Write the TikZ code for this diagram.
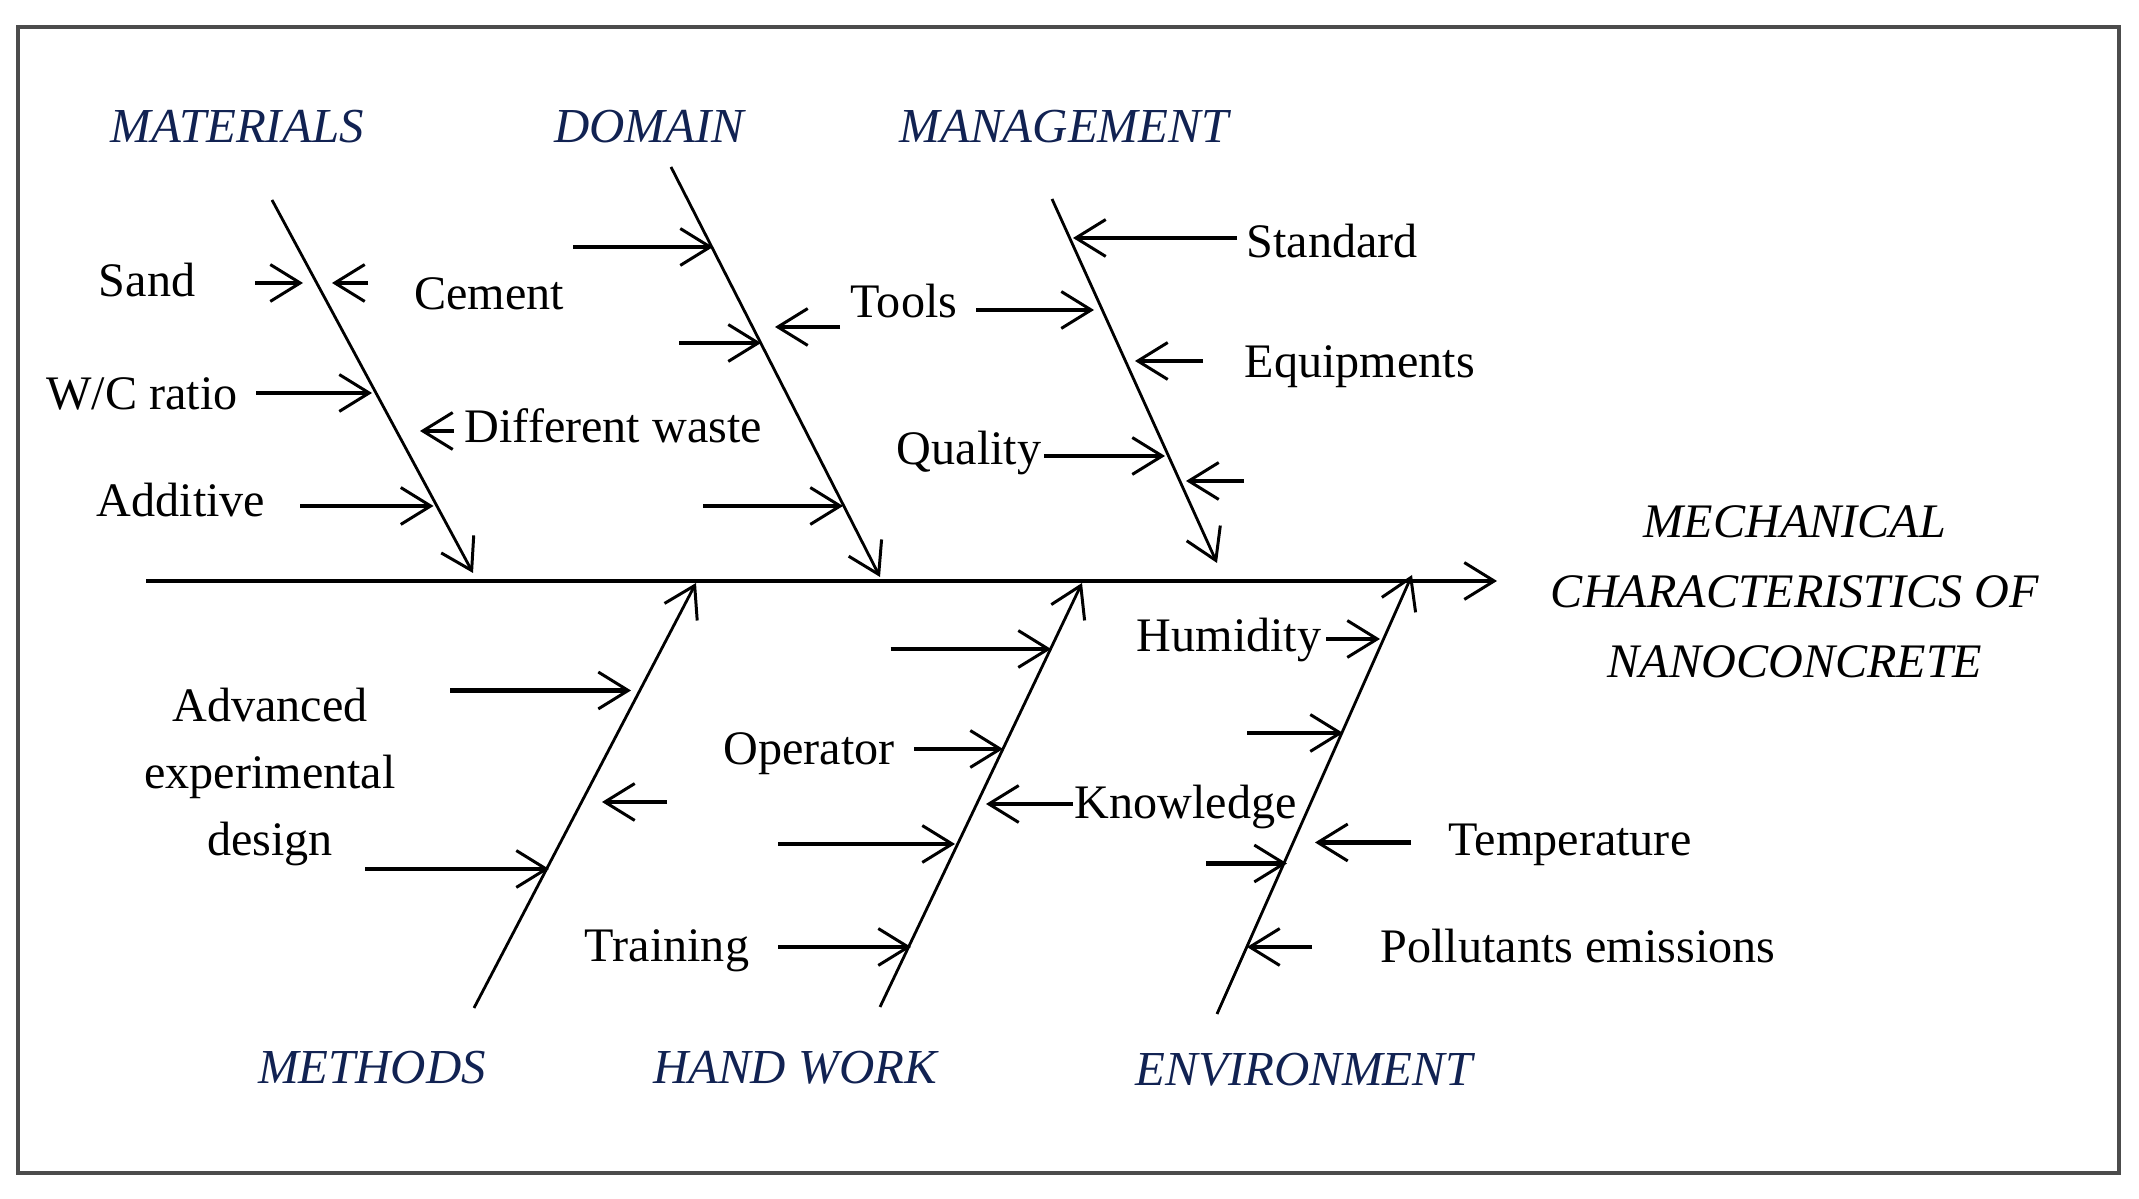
\documentclass[tikz,border=0pt]{standalone}
\usepackage{fontspec}
\setmainfont{Liberation Serif}
\usetikzlibrary{arrows.meta}
\definecolor{marine}{RGB}{17,34,82}

\begin{document}
\begin{tikzpicture}[
    font=\fontsize{13.7}{19}\selectfont,
    pointe/.style={-{Straight Barb[length=8.5pt,width=10.5pt,line width=0.85pt]}},
    arete/.style={pointe, line width=0.8pt},
    fleche/.style={pointe, line width=1.3pt},
    etiq/.style={inner sep=0pt, text height=0.82em, text depth=0pt},
    famille/.style={etiq, font=\fontsize{13.9}{19}\selectfont\itshape, text=marine}]
    \useasboundingbox (0,0) rectangle (21.39,11.99);

    % Cadre
    \draw[line width=1pt, black!70] (0.18,0.26) rectangle (21.19,11.72);

    % Arête principale et effet
    \coordinate (queue) at (1.46,6.18);
    \coordinate (tete) at (14.97,6.18);
    \draw[fleche] (queue) -- (tete);
    \node[align=center, inner sep=0pt, font=\fontsize{13.7}{20}\selectfont\itshape] (effet) at (17.95,6.07) {MECHANICAL\\CHARACTERISTICS OF\\NANOCONCRETE};

    % Familles de causes
    \node[famille] (materiaux) at (2.37,10.71) {MATERIALS};
    \node[famille] (domaine) at (6.49,10.71) {DOMAIN};
    \node[famille] (gestion) at (10.64,10.71) {MANAGEMENT};
    \node[famille] (methodes) at (3.72,1.295) {METHODS};
    \node[famille] (maindoeuvre) at (7.95,1.295) {HAND WORK};
    \node[famille] (milieu) at (13.04,1.275) {ENVIRONMENT};

    % Arêtes secondaires
    \coordinate (mat-h) at (2.72,9.99);   \coordinate (mat-b) at (4.73,6.26);
    \coordinate (dom-h) at (6.71,10.32);  \coordinate (dom-b) at (8.80,6.22);
    \coordinate (ges-h) at (10.52,10.00); \coordinate (ges-b) at (12.17,6.36);
    \coordinate (met-h) at (4.74,1.91);   \coordinate (met-b) at (6.96,6.16);
    \coordinate (mdo-h) at (8.80,1.92);   \coordinate (mdo-b) at (10.82,6.16);
    \coordinate (env-h) at (12.17,1.85);  \coordinate (env-b) at (14.12,6.24);
    \draw[arete] (mat-h) -- (mat-b);
    \draw[arete] (dom-h) -- (dom-b);
    \draw[arete] (ges-h) -- (ges-b);
    \draw[arete] (met-h) -- (met-b);
    \draw[arete] (mdo-h) -- (mdo-b);
    \draw[arete] (env-h) -- (env-b);

    % Causes : matériaux
    \node[etiq] (sable) at (1.47,9.17) {Sand};
    \node[etiq] (ciment) at (4.89,9.04) {Cement};
    \node[etiq] (eau) at (1.42,8.04) {W/C ratio};
    \node[etiq, anchor=west] (dechets) at (4.64,7.71) {Different waste};
    \node[etiq] (additif) at (1.81,6.97) {Additive};
    \coordinate (p-sable) at (3.03,9.16);
    \coordinate (p-mat2) at (3.32,9.16);
    \coordinate (p-eau) at (3.72,8.06);
    \coordinate (p-dechets) at (4.20,7.68);
    \coordinate (p-additif) at (4.335,6.93);
    \draw[fleche] ([xshift=-0.48cm]p-sable) -- (p-sable);
    \draw[fleche] ([xshift=0.36cm]p-mat2) -- (p-mat2);
    \draw[fleche] ([xshift=-1.16cm]p-eau) -- (p-eau);
    \draw[fleche] ([xshift=0.34cm]p-dechets) -- (p-dechets);
    \draw[fleche] ([xshift=-1.335cm]p-additif) -- (p-additif);

    % Causes : domaine
    \node[etiq] (outils) at (9.04,8.96) {Tools};
    \coordinate (p-dom1) at (7.13,9.52);
    \coordinate (p-dom2) at (7.61,8.56);
    \coordinate (p-dom3) at (7.75,8.72);
    \coordinate (p-dom4) at (8.43,6.93);
    \draw[fleche] ([xshift=-1.40cm]p-dom1) -- (p-dom1);
    \draw[fleche] ([xshift=-0.82cm]p-dom2) -- (p-dom2);
    \draw[fleche] ([xshift=0.65cm]p-dom3) -- (p-dom3);
    \draw[fleche] ([xshift=-1.40cm]p-dom4) -- (p-dom4);

    % Causes : gestion
    \node[etiq, anchor=west] (norme) at (12.46,9.56) {Standard};
    \node[etiq, anchor=west] (equip) at (12.44,8.36) {Equipments};
    \node[etiq, anchor=east] (qualite) at (10.42,7.49) {Quality};
    \coordinate (p-norme) at (10.73,9.61);
    \coordinate (p-outils) at (10.94,8.89);
    \coordinate (p-equip) at (11.35,8.38);
    \coordinate (p-qualite) at (11.65,7.43);
    \coordinate (p-ges5) at (11.86,7.18);
    \draw[fleche] ([xshift=1.64cm]p-norme) -- (p-norme);
    \draw[fleche] ([xshift=-1.18cm]p-outils) -- (p-outils);
    \draw[fleche] ([xshift=0.68cm]p-equip) -- (p-equip);
    \draw[fleche] ([xshift=-1.21cm]p-qualite) -- (p-qualite);
    \draw[fleche] ([xshift=0.58cm]p-ges5) -- (p-ges5);

    % Causes : méthodes
    \node[align=center, inner sep=0pt] (plan) at (2.70,4.22) {Advanced\\experimental\\design};
    \coordinate (p-met1) at (6.31,5.085);
    \coordinate (p-met2) at (6.02,3.97);
    \coordinate (p-met3) at (5.49,3.30);
    \draw[fleche] ([xshift=-1.81cm]p-met1) -- (p-met1);
    \draw[fleche] ([xshift=0.65cm]p-met2) -- (p-met2);
    \draw[fleche] ([xshift=-1.84cm]p-met3) -- (p-met3);

    % Causes : main d'oeuvre
    \node[etiq] (operateur) at (8.09,4.49) {Operator};
    \node[etiq, anchor=west] (savoir) at (10.74,3.95) {Knowledge};
    \node[etiq] (formation) at (6.67,2.52) {Training};
    \coordinate (p-mdo1) at (10.51,5.50);
    \coordinate (p-operateur) at (10.03,4.50);
    \coordinate (p-savoir) at (9.86,3.95);
    \coordinate (p-mdo4) at (9.55,3.55);
    \coordinate (p-formation) at (9.11,2.52);
    \draw[fleche] ([xshift=-1.605cm]p-mdo1) -- (p-mdo1);
    \draw[fleche] ([xshift=-0.89cm]p-operateur) -- (p-operateur);
    \draw[fleche] ([xshift=0.87cm]p-savoir) -- (p-savoir);
    \draw[fleche] ([xshift=-1.77cm]p-mdo4) -- (p-mdo4);
    \draw[fleche] ([xshift=-1.33cm]p-formation) -- (p-formation);

    % Causes : environnement
    \node[etiq, anchor=east] (humidite) at (13.22,5.62) {Humidity};
    \node[etiq, anchor=west] (temperature) at (14.48,3.58) {Temperature};
    \node[etiq, anchor=west] (polluants) at (13.80,2.51) {Pollutants emissions};
    \coordinate (p-humidite) at (13.80,5.60);
    \coordinate (p-env2) at (13.43,4.66);
    \coordinate (p-temperature) at (13.15,3.565);
    \coordinate (p-env4) at (12.87,3.355);
    \coordinate (p-polluants) at (12.47,2.52);
    \draw[fleche] ([xshift=-0.54cm]p-humidite) -- (p-humidite);
    \draw[fleche] ([xshift=-0.96cm]p-env2) -- (p-env2);
    \draw[fleche] ([xshift=0.96cm]p-temperature) -- (p-temperature);
    \draw[fleche] ([xshift=-0.81cm]p-env4) -- (p-env4);
    \draw[fleche] ([xshift=0.65cm]p-polluants) -- (p-polluants);

\end{tikzpicture}
\end{document}
